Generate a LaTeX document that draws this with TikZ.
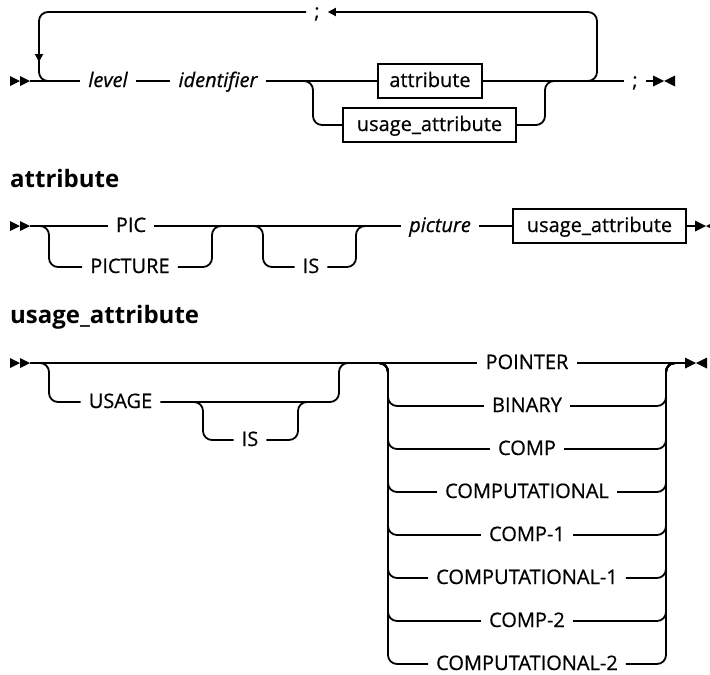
\documentclass[tikz,border=0pt]{standalone}
\usepackage{fontspec}
\setmainfont{Open Sans}
\newfontfamily\railfont{Open Sans}[FakeBold=0.6]
\usetikzlibrary{arrows.meta}

\tikzset{
  rail/.style={line width=1.8pt, rounded corners=9pt},
  kw/.style={inner xsep=8pt, inner ysep=0pt, text height=14pt, text depth=2pt,
    font=\fontsize{20}{24}\railfont},
  var/.style={kw, font=\fontsize{20}{24}\railfont\itshape},
  ref/.style={kw, draw, line width=1.6pt, inner xsep=10pt, minimum height=34pt},
  heading/.style={anchor=base west, inner sep=0pt, font=\fontsize{24}{28}\selectfont\bfseries},
  looptip/.style={-{Triangle[length=8pt,width=8pt]}},
  begmark/.pic={\fill (0,-5) -- (10,0) -- (0,5) -- cycle (10,-5) -- (20,0) -- (10,5) -- cycle;},
  endmark/.pic={\fill (0,-5.5) -- (11,0) -- (0,5.5) -- cycle (22,-5.5) -- (11,0) -- (22,5.5) -- cycle;}
}

\begin{document}
\begin{tikzpicture}[x=1pt,y=-1pt]
\useasboundingbox (0,0) rectangle (710,675);

% first diagram
\pic at (10,81) {begmark};
\coordinate (s1) at (30,81);
\node[var] (level) at (108,81) {level};
\node[var] (ident) at (218,81) {identifier};
\node[ref, minimum width=104pt] (attr1) at (430,81) {attribute};
\node[ref, minimum width=173pt] (usage1) at (429.5,125) {usage\_attribute};
\node[kw] (semi1) at (635,81) {;};
\coordinate (e1) at (653,81);
\pic at (653,81) {endmark};
\node[kw] (semi0) at (317,12) {;};

\draw[rail] (s1) -- (level);
\draw[rail] (level) -- (ident);
\draw[rail] (ident) -- (attr1);
\draw[rail] (attr1) -- (semi1);
\draw[rail] (semi1) -- (e1);
\draw[rail] (296,81) -- (313,81) -- (313,125) -- (usage1);
\draw[rail] (usage1) -- (545,125) -- (545,81) -- (562,81);
\draw[rail, looptip] (580,81) -- (597,81) -- (597,12) -- (semi0);
\draw[rail, looptip] (semi0) -- (39,12) -- (39,62);
\draw[rail] (39,58) -- (39,81) -- (56,81);

% attribute
\node[heading] (h2) at (10,187) {attribute};
\pic at (10,226) {begmark};
\coordinate (s2) at (30,226);
\node[kw] (pic) at (131,226) {PIC};
\node[kw] (picture) at (130,267) {PICTURE};
\node[kw] (is2) at (311,267) {IS};
\node[var] (pstr) at (440,226) {picture};
\node[ref, minimum width=173pt] (usage2) at (599.5,226) {usage\_attribute};
\coordinate (e2) at (695,226);
\pic at (695,226) {endmark};

\draw[rail] (s2) -- (pic);
\draw[rail] (pic) -- (pstr);
\draw[rail] (pstr) -- (usage2);
\draw[rail] (usage2) -- (e2);
\draw[rail] (33,226) -- (49,226) -- (49,267) -- (picture);
\draw[rail] (picture) -- (212,267) -- (212,226) -- (228,226);
\draw[rail] (247,226) -- (263,226) -- (263,267) -- (is2);
\draw[rail] (is2) -- (356,267) -- (356,226) -- (372,226);

% usage_attribute
\node[heading] (h3) at (10,323) {usage\_attribute};
\pic at (10,363) {begmark};
\coordinate (s3) at (30,363);
\node[kw] (usage) at (120.5,402) {USAGE};
\node[kw] (is3) at (250,440) {IS};
\node[kw] (ch1) at (527,363) {POINTER};
\coordinate (e3) at (685,363);
\pic at (685,363) {endmark};

\draw[rail] (s3) -- (ch1);
\draw[rail] (ch1) -- (e3);
\draw[rail] (33,363) -- (49,363) -- (49,402) -- (usage);
\draw[rail] (usage) -- (339,402) -- (339,363) -- (355,363);
\draw[rail] (187,402) -- (203,402) -- (203,440) -- (is3);
\draw[rail] (is3) -- (298,440) -- (298,402) -- (314,402);
\foreach \y/\t [count=\i from 2] in {406/BINARY, 449/COMP,
    492/COMPUTATIONAL\hspace{10pt}, 535/COMP-1,
    578/COMPUTATIONAL-1\hspace{10pt}, 621/COMP-2,
    664/COMPUTATIONAL-2\hspace{10pt}} {
  \node[kw] (ch\i) at (527,\y) {\t};
  \draw[rail] (372,363) -- (388,363) -- (388,\y) -- (ch\i);
  \draw[rail] (ch\i) -- (666,\y) -- (666,363) -- (682,363);
}
\end{tikzpicture}
\end{document}
